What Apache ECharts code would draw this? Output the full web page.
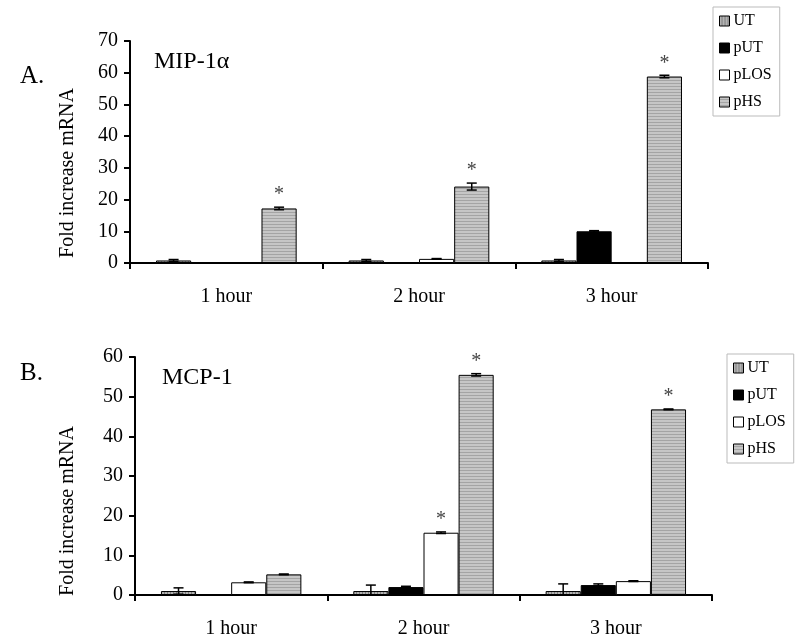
<!DOCTYPE html>
<html><head><meta charset="utf-8">
<script src="https://cdn.jsdelivr.net/npm/echarts@6/dist/echarts.min.js"></script>
<style>html,body{margin:0;padding:0;background:#fff}#c{width:800px;height:639px}</style>
</head><body><div id="c"></div>
<script>
// ---- data ----
const categories = ['1 hour', '2 hour', '3 hour'];
const seriesNames = ['UT', 'pUT', 'pLOS', 'pHS'];
const yTicksA = [0, 10, 20, 30, 40, 50, 60, 70];
const yTicksB = [0, 10, 20, 30, 40, 50, 60];
// A. MIP-1alpha
const mipUT   = [0.8, 0.8, 0.8];
const mipPUT  = [0, 0, 10];
const mipPLOS = [0, 1.3, 0];
const mipPHS  = [17.2, 24.1, 58.8];
const mipErrUT   = [0.3, 0.3, 0.3];
const mipErrPUT  = [0, 0, 0.2];
const mipErrPLOS = [0, 0.1, 0];
const mipErrPHS  = [0.4, 1.1, 0.4];
const mipStarPLOS = [0, 0, 0];
const mipStarPHS  = [1, 1, 1];
// B. MCP-1
const mcpUT   = [1.0, 1.0, 1.0];
const mcpPUT  = [0, 2.0, 2.5];
const mcpPLOS = [3.2, 15.7, 3.5];
const mcpPHS  = [5.2, 55.5, 46.8];
const mcpErrUT   = [0.8, 1.5, 1.8];
const mcpErrPUT  = [0, 0.2, 0.3];
const mcpErrPLOS = [0.1, 0.2, 0.1];
const mcpErrPHS  = [0.1, 0.3, 0.1];
const mcpStarPLOS = [0, 1, 0];
const mcpStarPHS  = [0, 1, 1];

// ---- patterns ----
function hPattern() {
  const c = document.createElement('canvas'); c.width = 4; c.height = 3;
  const g = c.getContext('2d');
  g.fillStyle = '#c6c6c6'; g.fillRect(0, 0, 4, 3);
  g.fillStyle = '#a4a4a4'; g.fillRect(0, 2, 4, 1);
  return c;
}
function vPattern() {
  const c = document.createElement('canvas'); c.width = 3; c.height = 4;
  const g = c.getContext('2d');
  g.fillStyle = '#b4b4b4'; g.fillRect(0, 0, 3, 4);
  g.fillStyle = '#808080'; g.fillRect(2, 0, 1, 4);
  return c;
}
const fills = [
  { image: vPattern(), repeat: 'repeat' },
  '#000000',
  '#ffffff',
  { image: hPattern(), repeat: 'repeat' }
];

const FONT = 'Liberation Serif';
const GAP = 0.27;

function makeBars(vals, gi) {
  return vals.map((v, i) => ({
    name: seriesNames[i], type: 'bar', xAxisIndex: gi, yAxisIndex: gi,
    data: v, barGap: '0%', barCategoryGap: (GAP * 100) + '%',
    itemStyle: { color: fills[i], borderColor: '#000', borderWidth: 1 },
    emphasis: { disabled: true }, animation: false
  }));
}

function makeErr(vals, errs, starsArr, gi) {
  const data = [];
  for (let s = 0; s < 4; s++) for (let k = 0; k < 3; k++)
    data.push([k, vals[s][k], errs[s][k], s, starsArr[s][k]]);
  return {
    type: 'custom', xAxisIndex: gi, yAxisIndex: gi, z: 10, animation: false,
    silent: true, data: data,
    renderItem: function (params, api) {
      const k = api.value(0), v = api.value(1), e = api.value(2), s = api.value(3), st = api.value(4);
      const band = api.size([1, 0])[0];
      const bw = band * (1 - GAP) / 4;
      const c = api.coord([k, v]);
      const x = c[0] + (s - 1.5) * bw;
      const children = [];
      const yTop = api.coord([k, v + e])[1];
      if (e > 0) {
        const low = Math.max(0, v - e);
        const yBot = api.coord([k, low])[1];
        const st2 = { stroke: '#000', lineWidth: 1.5 };
        children.push({ type: 'line', shape: { x1: x, y1: yTop, x2: x, y2: yBot }, style: st2 });
        children.push({ type: 'line', shape: { x1: x - 5, y1: yTop, x2: x + 5, y2: yTop }, style: st2 });
        if (low > 0) children.push({ type: 'line', shape: { x1: x - 5, y1: yBot, x2: x + 5, y2: yBot }, style: st2 });
      }
      if (st) {
        children.push({ type: 'text', style: { text: '*', x: x, y: yTop - 2, textAlign: 'center', textVerticalAlign: 'bottom', fill: '#444', font: '20px "' + FONT + '"' } });
      }
      return { type: 'group', children: children };
    }
  };
}

const axisLabelStyle = { color: '#000', fontFamily: FONT, fontSize: 20 };

function legendCfg(left, top) {
  return { data: seriesNames.map(n => ({ name: n })), orient: 'vertical', left: left, top: top,
    itemWidth: 10, itemHeight: 10, itemGap: 11,
    icon: 'rect', borderColor: '#bbb', borderWidth: 1, padding: [6, 8, 6, 6],
    textStyle: { color: '#000', fontFamily: FONT, fontSize: 16, padding: [0, 0, 0, -1] }, selectedMode: false,
    itemStyle: { borderColor: '#000', borderWidth: 1 } };
}

const option = {
  backgroundColor: '#fff',
  animation: false,
  grid: [
    { left: 130, top: 41, width: 578, height: 222 },
    { left: 135, top: 357, width: 577, height: 238 }
  ],
  legend: [legendCfg(713, 7), legendCfg(727, 354)],
  xAxis: [0, 1].map(gi => ({
    type: 'category', gridIndex: gi, data: categories,
    axisLine: { lineStyle: { color: '#000', width: 2 } },
    axisTick: { show: true, length: 6, lineStyle: { color: '#000', width: 2 } },
    axisLabel: Object.assign({ margin: 24 }, axisLabelStyle)
  })),
  yAxis: [
    { type: 'value', gridIndex: 0, min: yTicksA[0], max: yTicksA[yTicksA.length - 1], interval: 10,
      axisLine: { show: true, lineStyle: { color: '#000', width: 2 } },
      axisTick: { show: true, length: 6, lineStyle: { color: '#000', width: 2 } },
      splitLine: { show: false },
      axisLabel: Object.assign({ margin: 12 }, axisLabelStyle) },
    { type: 'value', gridIndex: 1, min: yTicksB[0], max: yTicksB[yTicksB.length - 1], interval: 10,
      axisLine: { show: true, lineStyle: { color: '#000', width: 2 } },
      axisTick: { show: true, length: 6, lineStyle: { color: '#000', width: 2 } },
      splitLine: { show: false },
      axisLabel: Object.assign({ margin: 12 }, axisLabelStyle) }
  ],
  graphic: [
    { type: 'text', left: 20, top: 64, style: { text: 'A.', font: '25px "' + FONT + '"', fill: '#000' } },
    { type: 'text', left: 154, top: 50, style: { text: 'MIP-1α', font: '24px "' + FONT + '"', fill: '#000' } },
    { type: 'text', left: 20, top: 361, style: { text: 'B.', font: '25px "' + FONT + '"', fill: '#000' } },
    { type: 'text', left: 162, top: 366, style: { text: 'MCP-1', font: '24px "' + FONT + '"', fill: '#000' } },
    { type: 'text', x: 68, y: 173, rotation: Math.PI / 2, style: { text: 'Fold increase mRNA', font: '20px "' + FONT + '"', fill: '#000', textAlign: 'center', textVerticalAlign: 'middle' } },
    { type: 'text', x: 68, y: 511, rotation: Math.PI / 2, style: { text: 'Fold increase mRNA', font: '20px "' + FONT + '"', fill: '#000', textAlign: 'center', textVerticalAlign: 'middle' } }
  ],
  series: [].concat(
    makeBars([mipUT, mipPUT, mipPLOS, mipPHS], 0),
    makeBars([mcpUT, mcpPUT, mcpPLOS, mcpPHS], 1),
    [makeErr([mipUT, mipPUT, mipPLOS, mipPHS], [mipErrUT, mipErrPUT, mipErrPLOS, mipErrPHS], [[0,0,0],[0,0,0], mipStarPLOS, mipStarPHS], 0),
     makeErr([mcpUT, mcpPUT, mcpPLOS, mcpPHS], [mcpErrUT, mcpErrPUT, mcpErrPLOS, mcpErrPHS], [[0,0,0],[0,0,0], mcpStarPLOS, mcpStarPHS], 1)]
  )
};
const chart = echarts.init(document.getElementById('c'), null, { renderer: 'canvas' });
chart.setOption(option);
</script>
</body></html>
